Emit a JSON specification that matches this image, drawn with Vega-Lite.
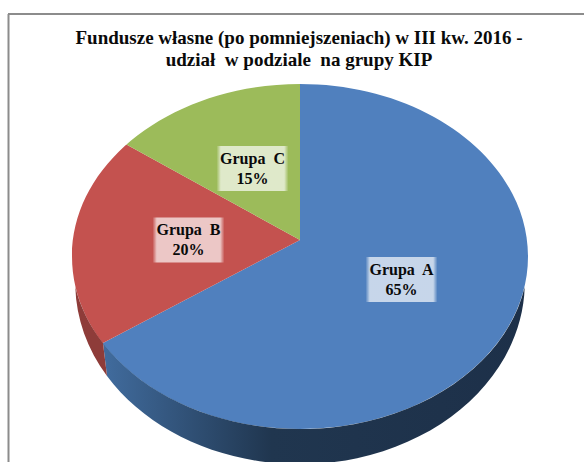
{"$schema":"https://vega.github.io/schema/vega-lite/v6.json","width":584,"height":384,"autosize":{"type":"none"},"padding":{"top":78,"left":0,"right":0,"bottom":0},"background":"white","config":{"view":{"stroke":null}},
"title":{"text":["Fundusze własne (po pomniejszeniach) w III kw. 2016 -","udział\u00a0 w podziale\u00a0 na grupy KIP"],"anchor":"middle","dx":7,"dy":82,"font":"Liberation Serif","fontSize":19,"fontWeight":"bold","color":"#0A0A0A","lineHeight":22,"offset":6,"baseline":"bottom"},
"data":{"values":[{"group":"Grupa A","share":65,"label":"Grupa\u00a0 A\n65%"},{"group":"Grupa B","share":20,"label":"Grupa\u00a0 B\n20%"},{"group":"Grupa C","share":15,"label":"Grupa\u00a0 C\n15%"}]},
"resolve":{"scale":{"x":"independent","y":"independent","color":"independent"}},
"layer":[
{"mark":{"type":"arc","outerRadius":320,"clip":true},"encoding":{"theta":{"field":"share","type":"quantitative","stack":true,"scale":{"domain":[0,65,85,100],"range":[0,4.231,5.215,6.2832]}},"order":{"field":"group"},"color":{"field":"group","type":"nominal","legend":null,"scale":{"domain":["Grupa A","Grupa B","Grupa C"],"range":["#5080BE","#C4524F","#9CBB5A"]}},"x":{"datum":300,"type":"quantitative","axis":null,"scale":{"domain":[0,584],"nice":false,"zero":false}},"y":{"datum":240,"type":"quantitative","axis":null,"scale":{"domain":[462,78],"nice":false,"zero":false}}}},
{"data":{"values":[{"part":"frame"}]},"mark":{"type":"point","filled":true,"opacity":1,"fill":"white","strokeWidth":0,"size":4,"shape":"M-300,-178.5 L284,-178.5 L284,205.5 L-300,205.5 Z M-228,0 A228,172.5 0 1 0 228,0 A228,172.5 0 1 0 -228,0 Z"},"encoding":{"x":{"datum":300,"type":"quantitative","axis":null,"scale":{"domain":[0,584],"nice":false,"zero":false}},"y":{"datum":256.5,"type":"quantitative","axis":null,"scale":{"domain":[462,78],"nice":false,"zero":false}}}},
{"transform":[{"filter":"datum.group==='Grupa A'"}],"mark":{"type":"point","filled":true,"opacity":1,"strokeWidth":0,"size":4,"shape":"M-197,86.5 A228,172.5 0 0 0 224.7,30.5 A225,182 0 0 1 -193,119.5 Z","fill":{"gradient":"linear","x1":0,"y1":0,"x2":1,"y2":0,"stops":[{"offset":0,"color":"#416C9E"},{"offset":0.4,"color":"#20364F"},{"offset":1,"color":"#1D3049"}]}},"encoding":{"x":{"datum":300,"type":"quantitative","axis":null,"scale":{"domain":[0,584],"nice":false,"zero":false}},"y":{"datum":256.5,"type":"quantitative","axis":null,"scale":{"domain":[462,78],"nice":false,"zero":false}}}},
{"transform":[{"filter":"datum.group==='Grupa B'"}],"mark":{"type":"point","filled":true,"opacity":1,"strokeWidth":0,"size":4,"shape":"M-224.7,30.5 A228,172.5 0 0 0 -197,86.5 L-193,119.5 A225,182 0 0 1 -224.7,30.5 Z","fill":"#8E3C39"},"encoding":{"x":{"datum":300,"type":"quantitative","axis":null,"scale":{"domain":[0,584],"nice":false,"zero":false}},"y":{"datum":256.5,"type":"quantitative","axis":null,"scale":{"domain":[462,78],"nice":false,"zero":false}}}},
{"mark":{"type":"rect","width":72,"height":45,"fill":{"gradient":"linear","x1":0,"y1":0,"x2":1,"y2":0,"stops":[{"offset":0,"color":"rgba(255,255,255,0)"},{"offset":0.06,"color":"rgba(255,255,255,0.68)"},{"offset":0.94,"color":"rgba(255,255,255,0.68)"},{"offset":1,"color":"rgba(255,255,255,0)"}]}},"encoding":{"x":{"field":"share","type":"quantitative","axis":null,"scale":{"domain":[15,20,65],"range":[252.5,188.5,401.5],"zero":false,"nice":false}},"y":{"field":"share","type":"quantitative","axis":null,"scale":{"domain":[15,20,65],"range":[90.5,162,201.5],"zero":false,"nice":false}}}},
{"mark":{"type":"text","font":"Liberation Serif","fontSize":16,"fontWeight":"bold","color":"#0A0A0A","align":"center","baseline":"middle","lineBreak":"\n","lineHeight":20,"dy":-10},"encoding":{"text":{"field":"label"},"x":{"field":"share","type":"quantitative","axis":null,"scale":{"domain":[15,20,65],"range":[252.5,188.5,401.5],"zero":false,"nice":false}},"y":{"field":"share","type":"quantitative","axis":null,"scale":{"domain":[15,20,65],"range":[90.5,162,201.5],"zero":false,"nice":false}}}},
{"data":{"values":[{"part":"frame"}]},"mark":{"type":"rule","color":"#8C8C8C","strokeWidth":2},"encoding":{"x":{"datum":8.5,"type":"quantitative","axis":null,"scale":{"domain":[0,584],"nice":false,"zero":false}},"y":{"datum":14,"type":"quantitative","axis":null,"scale":{"domain":[462,78],"nice":false,"zero":false}},"y2":{"datum":462}}},
{"data":{"values":[{"part":"frame"}]},"mark":{"type":"rule","color":"#8C8C8C","strokeWidth":2},"encoding":{"y":{"datum":14,"type":"quantitative","axis":null,"scale":{"domain":[462,78],"nice":false,"zero":false}},"x":{"datum":8,"type":"quantitative","axis":null,"scale":{"domain":[0,584],"nice":false,"zero":false}},"x2":{"datum":584}}}
]}
